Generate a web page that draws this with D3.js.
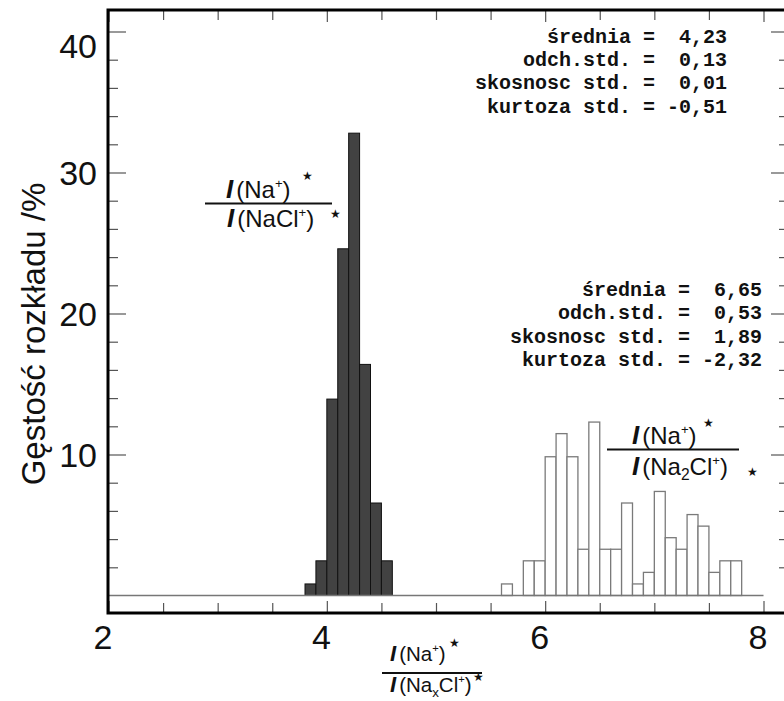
<!DOCTYPE html>
<html><head><meta charset="utf-8">
<script src="https://cdn.jsdelivr.net/npm/d3@7"></script>
<style>
body{margin:0;background:#fff}
text{font-family:"Liberation Sans",Arial,sans-serif}
.mono{font-family:"Liberation Mono","Courier New",monospace;font-weight:bold}
</style>
</head><body>
<svg id="c" width="784" height="701"></svg>
<script>
// ---- data ----
const binWidth = 0.1;
const naclBinStarts = [3.8, 3.9, 4.0, 4.1, 4.2, 4.3, 4.4, 4.5];
const naclValues    = [0.82, 2.46, 13.93, 24.59, 32.79, 16.39, 6.56, 2.46];
const na2clBinStarts = [5.6, 5.8, 5.9, 6.0, 6.1, 6.2, 6.3, 6.4, 6.5, 6.6, 6.7,
                        6.8, 6.9, 7.0, 7.1, 7.2, 7.3, 7.4, 7.5, 7.6, 7.7];
const na2clValues    = [0.82, 2.46, 2.46, 9.84, 11.48, 9.84, 3.28, 12.30, 3.28, 3.28, 6.56,
                        0.82, 1.64, 7.38, 4.10, 3.28, 5.74, 4.92, 1.64, 2.46, 2.46];
const xTickValues = [2, 4, 6, 8];
const yTickValues = [10, 20, 30, 40];
const stats1 = ["średnia =  4,23", "odch.std. =  0,13", "skosnosc std. =  0,01", "kurtoza std. = -0,51"];
const stats2 = ["średnia =  6,65", "odch.std. =  0,53", "skosnosc std. =  1,89", "kurtoza std. = -2,32"];
const yTitle = "Gęstość rozkładu /%";

// ---- scales ----
const svg = d3.select("#c");
const x = d3.scaleLinear().domain([2, 8]).range([108.5, 763.5]);
const y = d3.scaleLinear().domain([-1.241, 41.525]).range([613, 10]);
const fL = 108, fR = 789, fT = 10, fB = 613;

// ---- bars ----
svg.append("g").selectAll("rect").data(na2clBinStarts.map((s,i)=>({s,v:na2clValues[i]})))
  .join("rect")
  .attr("x", d=>x(d.s)).attr("width", d=>x(d.s+binWidth)-x(d.s))
  .attr("y", d=>y(d.v)).attr("height", d=>y(0)-y(d.v))
  .attr("fill", "#fff").attr("stroke", "#7a7a7a").attr("stroke-width", 1.3);

svg.append("g").selectAll("rect").data(naclBinStarts.map((s,i)=>({s,v:naclValues[i]})))
  .join("rect")
  .attr("x", d=>x(d.s)).attr("width", d=>x(d.s+binWidth)-x(d.s))
  .attr("y", d=>y(d.v)).attr("height", d=>y(0)-y(d.v))
  .attr("fill", "#424242").attr("stroke", "#111").attr("stroke-width", 1);

// baseline (zero line)
svg.append("line").attr("x1", fL).attr("x2", x(8)).attr("y1", y(0)).attr("y2", y(0))
  .attr("stroke", "#777").attr("stroke-width", 1.5);

// ---- axes ----
function clean(g){ g.select(".domain").remove(); g.selectAll(".tick line").attr("stroke","#555").attr("stroke-width",1.2); }
const yMinor = d3.range(2, 41, 2).filter(v => v % 10 !== 0);
const xMinor = d3.range(2.5, 8.01, 0.5).filter(v => v % 2 !== 0);

svg.append("g").attr("transform", `translate(${fL},0)`)
  .call(d3.axisLeft(y).tickValues(yTickValues).tickSize(-18).tickPadding(11).tickFormat(d3.format("d")))
  .call(clean)
  .call(g=>g.selectAll("text").attr("font-size",34).attr("fill","#111").attr("font-family","Liberation Sans")
     .attr("dy", d => d === 40 ? "0.75em" : "0.34em"));
svg.append("g").attr("transform", `translate(${fL},0)`)
  .call(d3.axisLeft(y).tickValues(yMinor).tickSize(-10).tickFormat(""))
  .call(clean);
svg.append("g").attr("transform", `translate(${fR},0)`)
  .call(d3.axisRight(y).tickValues(yTickValues).tickSize(-18).tickFormat(""))
  .call(clean);
svg.append("g").attr("transform", `translate(${fR},0)`)
  .call(d3.axisRight(y).tickValues(yMinor).tickSize(-10).tickFormat(""))
  .call(clean);

svg.append("g").attr("transform", `translate(0,${fB})`)
  .call(d3.axisBottom(x).tickValues(xTickValues).tickSize(-12).tickPadding(12).tickFormat(d3.format("d")))
  .call(clean)
  .call(g=>g.selectAll("text").attr("font-size",34).attr("fill","#111").attr("dx",-6).attr("font-family","Liberation Sans"));
svg.append("g").attr("transform", `translate(0,${fB})`)
  .call(d3.axisBottom(x).tickValues(xMinor).tickSize(-10).tickFormat(""))
  .call(clean);
svg.append("g").attr("transform", `translate(0,${fT})`)
  .call(d3.axisTop(x).tickValues(xTickValues).tickSize(-12).tickFormat(""))
  .call(clean);
svg.append("g").attr("transform", `translate(0,${fT})`)
  .call(d3.axisTop(x).tickValues(xMinor).tickSize(-10).tickFormat(""))
  .call(clean);

// frame
svg.append("rect").attr("x", fL).attr("y", fT).attr("width", fR-fL).attr("height", fB-fT)
  .attr("fill","none").attr("stroke","#000").attr("stroke-width",3);

// y title
svg.append("text").attr("transform","translate(45,334) rotate(-90)")
  .attr("text-anchor","middle").attr("font-size",33).attr("fill","#111").text(yTitle);

// ---- stats ----
const nb = s => s.replace(/ /g, "\u00A0");
svg.append("g").selectAll("text").data(stats1).join("text")
  .attr("class","mono").attr("x",727).attr("y",(d,i)=>42.5+i*23.4)
  .attr("text-anchor","end").attr("font-size",20).attr("fill","#111").text(d=>nb(d));
svg.append("g").selectAll("text").data(stats2).join("text")
  .attr("class","mono").attr("x",762).attr("y",(d,i)=>296+i*23.3)
  .attr("text-anchor","end").attr("font-size",20).attr("fill","#111").text(d=>nb(d));

// ---- fraction labels ----
function ratioPart(g, x0, base, fs, parts){
  const t = g.append("text").attr("x",x0).attr("y",base).attr("font-size",fs).attr("fill","#111");
  parts.forEach(p=>{
    const ts = t.append("tspan").text(p.t);
    if(p.b){ ts.attr("font-weight","bold").attr("font-style","italic").attr("font-size",fs*1.08); }
    if(p.sup){ ts.attr("font-size",fs*0.55).attr("dy",-fs*0.42); }
    if(p.sub){ ts.attr("font-size",fs*0.65).attr("dy",fs*0.22); }
    if(p.back){ ts.attr("dy",p.back); }
    if(p.dx){ ts.attr("dx",p.dx); }
  });
}
function star(g, cx, cy, s){
  g.append("text").attr("x",cx).attr("y",cy).attr("font-size",s||12).attr("text-anchor","middle")
   .attr("dominant-baseline","central").attr("font-family","DejaVu Sans").attr("fill","#111").text("★");
}
function fraction(cfg){
  const g = svg.append("g");
  ratioPart(g, cfg.nx, cfg.nb, cfg.fs, cfg.num);
  ratioPart(g, cfg.dx, cfg.db, cfg.fs, cfg.den);
  g.append("line").attr("x1",cfg.l1).attr("x2",cfg.l2).attr("y1",cfg.ly).attr("y2",cfg.ly)
    .attr("stroke","#111").attr("stroke-width",2.2);
  star(g, cfg.s1[0], cfg.s1[1]); star(g, cfg.s2[0], cfg.s2[1]);
}
const mkNum = f => [{t:"I",b:true},{t:"(Na",dx:3},{t:"+",sup:true},{t:")",back:f*0.42}];
fraction({fs:24, nx:226, nb:198, dx:227, db:227, ly:203.5, l1:205, l2:332, s1:[307,176], s2:[335,214],
  num:mkNum(24),
  den:[{t:"I",b:true},{t:"(NaCl",dx:3},{t:"+",sup:true},{t:")",back:24*0.42}]});
fraction({fs:24, nx:632, nb:444, dx:632, db:475, ly:449.5, l1:607, l2:739, s1:[708,423], s2:[752,472],
  num:mkNum(24),
  den:[{t:"I",b:true},{t:"(Na",dx:3},{t:"2",sub:true},{t:"Cl",back:-24*0.22},{t:"+",sup:true},{t:")",back:24*0.42}]});
fraction({fs:20.5, nx:390, nb:661, dx:390, db:692, ly:673, l1:382, l2:482, s1:[454,643], s2:[478,677],
  num:mkNum(20.5),
  den:[{t:"I",b:true},{t:"(Na",dx:3},{t:"x",sub:true},{t:"Cl",back:-20.5*0.22},{t:"+",sup:true},{t:")",back:20.5*0.42}]});
</script>
</body></html>
